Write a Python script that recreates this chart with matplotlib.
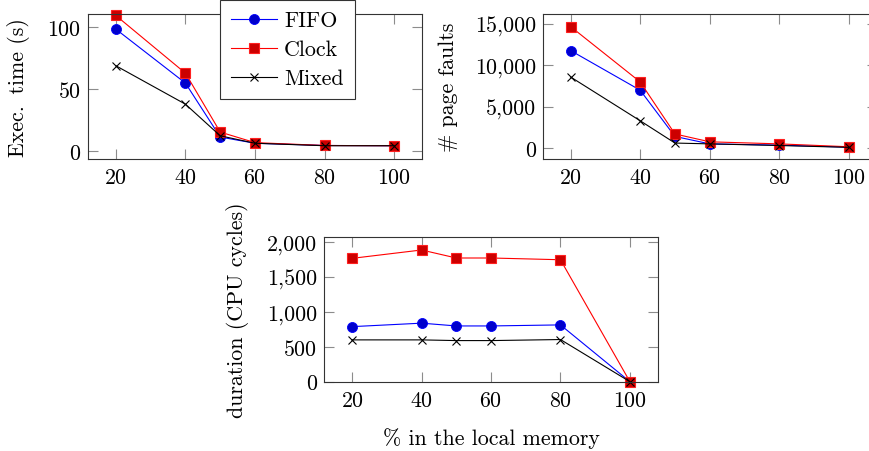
import matplotlib
matplotlib.use('Agg')
import matplotlib.pyplot as plt
from matplotlib.ticker import FuncFormatter

plt.rcParams['font.family'] = ['cmr10', 'DejaVu Serif']
plt.rcParams['axes.formatter.use_mathtext'] = True
plt.rcParams['font.size'] = 15.8

local_pct = [20, 40, 50, 60, 80, 100]

exec_fifo = [98.5, 55, 11.5, 6.5, 4.7, 4.5]
exec_clock = [109.5, 63, 15.5, 7, 4.7, 4.5]
exec_mixed = [69, 38, 12.5, 6.5, 4.5, 4.5]

faults_fifo = [11800, 7000, 1400, 500, 350, 100]
faults_clock = [14700, 8000, 1700, 750, 500, 150]
faults_mixed = [8600, 3300, 600, 500, 300, 80]

dur_fifo = [790, 840, 800, 800, 815, 0]
dur_clock = [1770, 1890, 1775, 1775, 1750, 0]
dur_mixed = [600, 600, 590, 590, 605, 0]

W, H = 870, 452
fig = plt.figure(figsize=(W / 100, H / 100), dpi=100)


def box(l, r, t, b):
    return [l / W, 1 - b / H, (r - l) / W, (b - t) / H]


ax1 = fig.add_axes(box(88, 422, 15, 160))
ax2 = fig.add_axes(box(542.7, 876.8, 15, 160))
ax3 = fig.add_axes(box(324.3, 657.7, 238.3, 382.7))

comma = FuncFormatter(lambda v, p: '{:,.0f}'.format(v))


def draw(ax, fifo, clock, mixed):
    ax.plot(local_pct, fifo, color='blue', lw=0.8, marker='o', ms=7.2,
            mfc='#0000cc', mec='blue', mew=0.6, clip_on=False, label='FIFO')
    ax.plot(local_pct, clock, color='red', lw=0.8, marker='s', ms=7.0,
            mfc='#cc0000', mec='#ff2020', mew=0.8, clip_on=False, label='Clock')
    ax.plot(local_pct, mixed, color='black', lw=0.8, marker='x', ms=6,
            mew=0.8, clip_on=False, label='Mixed')
    ax.set_xlim(12, 108)
    ax.set_xticks([20, 40, 60, 80, 100])
    ax.tick_params(direction='in', length=7, width=0.8, color='0.55',
                   top=True, right=True, pad=5)
    ax.tick_params(axis='x', pad=6)
    for s in ax.spines.values():
        s.set_linewidth(0.8)
        s.set_color('0.2')


draw(ax1, exec_fifo, exec_clock, exec_mixed)
ax1.set_ylim(-6.2, 110.7)
ax1.set_yticks([0, 50, 100])
ax1.set_ylabel('Exec. \u2009time (s)', va='center')
ax1.yaxis.set_label_coords(-0.207, 0.5)

draw(ax2, faults_fifo, faults_clock, faults_mixed)
ax2.set_ylim(-1330, 16220)
ax2.set_yticks([0, 5000, 10000, 15000])
ax2.yaxis.set_major_formatter(comma)
ax2.set_ylabel('# page faults', va='center')
ax2.yaxis.set_label_coords(-0.283, 0.5)

draw(ax3, dur_fifo, dur_clock, dur_mixed)
ax3.set_ylim(0, 2072)
ax3.set_yticks([0, 500, 1000, 1500, 2000])
ax3.yaxis.set_major_formatter(comma)
ax3.set_ylabel('duration (CPU cycles)', va='center')
ax3.yaxis.set_label_coords(-0.261, 0.5)
ax3.set_xlabel('% in the local memory', va='center')
ax3.xaxis.set_label_coords(0.5, -0.385)

leg = ax1.legend(loc='upper left', bbox_to_anchor=(220 / W, 1 - 1 / H),
                 bbox_transform=fig.transFigure, borderaxespad=0,
                 fancybox=False, framealpha=1, edgecolor='0.2',
                 handlelength=2.1, handletextpad=0.32, borderpad=0.5,
                 labelspacing=0.43)
leg.get_frame().set_linewidth(0.8)

fig.savefig('out.png', dpi=100)
